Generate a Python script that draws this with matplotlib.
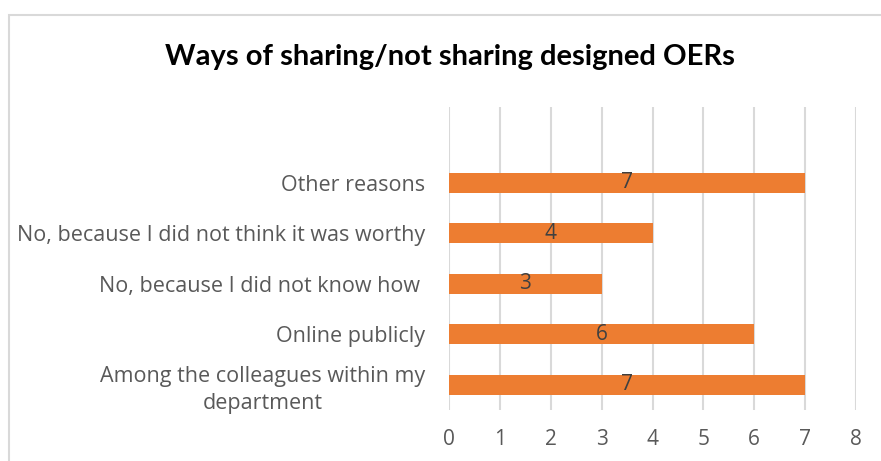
import matplotlib
matplotlib.use("Agg")
import matplotlib.pyplot as plt
from matplotlib.patches import Rectangle

categories = [
    "Among the colleagues within my\ndepartment",
    "Online publicly",
    "No, because I did not know how ",
    "No, because I did not think it was worthy",
    "Other reasons",
]
values = [7, 6, 3, 4, 7]
xticks = [0, 1, 2, 3, 4, 5, 6, 7, 8]
title = "Ways of sharing/not sharing designed OERs"

plt.rcParams['font.family'] = ['Open Sans', 'DejaVu Sans']

fig = plt.figure(figsize=(8.81, 4.61), dpi=100)
ax = fig.add_axes([449/881, 1-410/461, (856-449)/881, (410-107)/461])

ypos = list(range(len(categories)))
bars = ax.barh(ypos, values, height=0.4, color='#ED7D31', zorder=3)
for y, v in zip(ypos, values):
    ax.text(v/2, y, str(v), ha='center', va='center', fontsize=15, color='#404040', zorder=4)

ax.set_xlim(0, 8)
ax.set_ylim(-0.5, 5.5)
ax.set_xticks(xticks)
ax.set_xticklabels([str(t) for t in xticks], fontsize=15, color='#595959')
ax.set_yticks(ypos)
ax.set_yticklabels(categories, fontsize=15.5, color='#595959', multialignment='center',
                   linespacing=1.35)
ax.tick_params(axis='both', length=0)
ax.tick_params(axis='y', pad=17)
ax.tick_params(axis='x', pad=14)
ax.grid(axis='x', color='#D9D9D9', linewidth=1.5, zorder=0)
for s in ax.spines.values():
    s.set_visible(False)

fig.text(450/881, 1-57/461, title, ha='center', va='center', fontsize=21,
         fontweight='bold', color='black', family=['Lato', 'DejaVu Sans'])

fig.patches.append(Rectangle((9/881, -0.1), 1.2, 1-15/461+0.1, transform=fig.transFigure,
                             fill=False, edgecolor='#D9D9D9', linewidth=1.5))

fig.savefig('out.png', dpi=100)
